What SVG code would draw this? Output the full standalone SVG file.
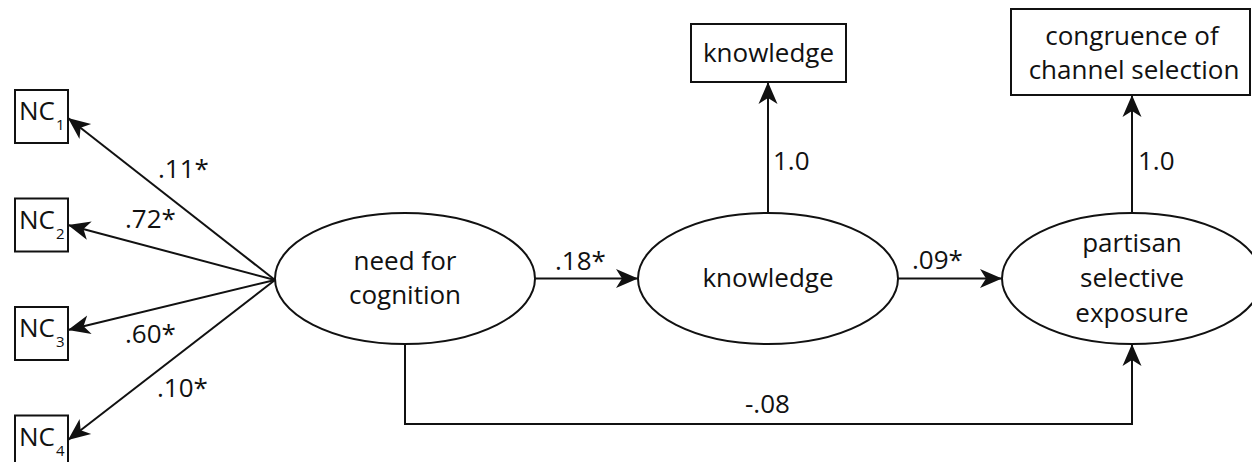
<svg xmlns="http://www.w3.org/2000/svg" width="1252" height="462" viewBox="0 0 1252 462">
  <style>
    .shape { fill: #fff; stroke: #111; stroke-width: 2; }
    .edge { fill: none; stroke: #111; stroke-width: 2; }
    text { font-family: "Open Sans", "Liberation Sans", sans-serif; font-size: 26px; fill: #111; }
    .mid { text-anchor: middle; }
    .sub { font-size: 15px; }
  </style>
  <defs>
    <marker id="arrow" markerUnits="userSpaceOnUse" markerWidth="26" markerHeight="22" viewBox="-24 -11 26 22" refX="0" refY="0" orient="auto">
      <path d="M0,0 L-22,-9.5 L-16,0 L-22,9.5 Z" fill="#111"/>
    </marker>
  </defs>

  <!-- connectors -->
  <g id="connectors">
    <line class="edge" x1="275" y1="280" x2="68" y2="118" marker-end="url(#arrow)"/>
    <line class="edge" x1="275" y1="280" x2="68" y2="225" marker-end="url(#arrow)"/>
    <line class="edge" x1="275" y1="280" x2="68" y2="330" marker-end="url(#arrow)"/>
    <line class="edge" x1="275" y1="280" x2="68" y2="440" marker-end="url(#arrow)"/>
    <line class="edge" x1="535" y1="278.5" x2="638" y2="278.5" marker-end="url(#arrow)"/>
    <line class="edge" x1="898" y1="278.5" x2="1002" y2="278.5" marker-end="url(#arrow)"/>
    <line class="edge" x1="768" y1="213" x2="768" y2="82" marker-end="url(#arrow)"/>
    <line class="edge" x1="1132" y1="213" x2="1132" y2="95" marker-end="url(#arrow)"/>
    <polyline class="edge" points="405,344 405,424 1132,424 1132,344" marker-end="url(#arrow)"/>
    <text x="158" y="178">.11*</text>
    <text x="125" y="228">.72*</text>
    <text x="125" y="343">.60*</text>
    <text x="157" y="397">.10*</text>
    <text x="555" y="270">.18*</text>
    <text x="912" y="269">.09*</text>
    <text x="773" y="170">1.0</text>
    <text x="1138" y="170">1.0</text>
    <text x="745" y="413">-.08</text>
  </g>

  <!-- indicators of need for cognition -->
  <g id="nc1">
    <rect class="shape" x="15" y="90" width="53" height="53"/>
    <text x="19" y="120">NC</text><text class="sub" x="56" y="130">1</text>
  </g>
  <g id="nc2">
    <rect class="shape" x="15" y="198.5" width="53" height="53"/>
    <text x="19" y="228.5">NC</text><text class="sub" x="56" y="238.5">2</text>
  </g>
  <g id="nc3">
    <rect class="shape" x="15" y="307" width="53" height="53"/>
    <text x="19" y="337">NC</text><text class="sub" x="56" y="347">3</text>
  </g>
  <g id="nc4">
    <rect class="shape" x="15" y="415.5" width="53" height="53"/>
    <text x="19" y="445.5">NC</text><text class="sub" x="56" y="455.5">4</text>
  </g>

  <!-- latent variables -->
  <g id="need-for-cognition">
    <ellipse class="shape" cx="405" cy="278.5" rx="130" ry="65.5"/>
    <text class="mid" x="405" y="270">need for</text>
    <text class="mid" x="405" y="304">cognition</text>
  </g>
  <g id="knowledge-latent">
    <ellipse class="shape" cx="768" cy="278.5" rx="130" ry="65.5"/>
    <text class="mid" x="768" y="287">knowledge</text>
  </g>
  <g id="partisan-selective-exposure">
    <ellipse class="shape" cx="1132" cy="278.5" rx="130" ry="65.5"/>
    <text class="mid" x="1132" y="252">partisan</text>
    <text class="mid" x="1132" y="287">selective</text>
    <text class="mid" x="1132" y="322">exposure</text>
  </g>

  <!-- observed measures -->
  <g id="knowledge-measure">
    <rect class="shape" x="691" y="24" width="155" height="58"/>
    <text class="mid" x="768.5" y="62">knowledge</text>
  </g>
  <g id="congruence-measure">
    <rect class="shape" x="1011" y="9" width="239" height="86"/>
    <text class="mid" x="1132" y="45">congruence of</text>
    <text class="mid" x="1134" y="79">channel selection</text>
  </g>
</svg>
